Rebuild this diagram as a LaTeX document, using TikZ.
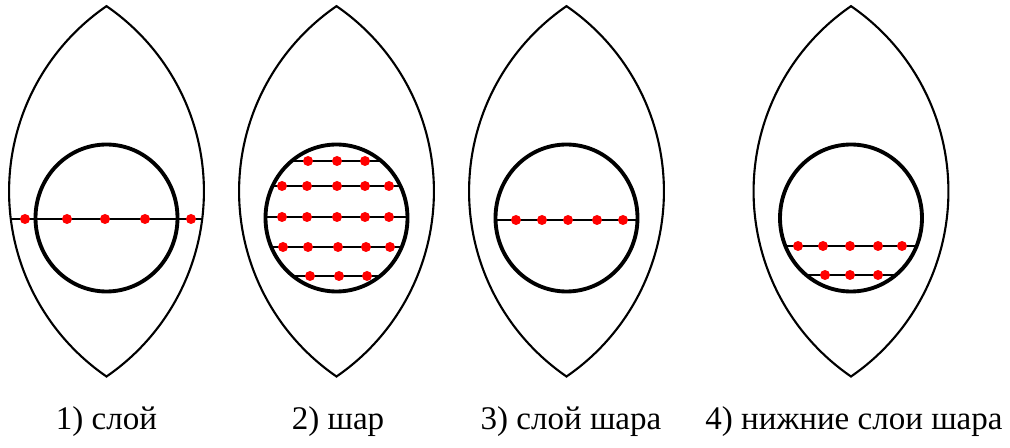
\documentclass[tikz,border=0pt]{standalone}
\usepackage{fontspec}
\setmainfont{Liberation Serif}
\usepackage{xcolor}
\usepackage{tikz}

\begin{document}
\begin{tikzpicture}[x=0.2mm,y=0.2mm,
  lens/.style={line width=1.2pt},
  ball/.style={line width=2.2pt},
  chord/.style={line width=1.1pt},
  redpt/.style={fill=red},
  lab/.style={anchor=base,font=\fontsize{18.8}{22}\selectfont}]
\useasboundingbox (0,0) rectangle (1010,448);
\foreach \cx in {106.5,336.5,566.5,851} {
  \draw[lens] (\cx,71.5) arc[start angle=-55.5,end angle=55.5,radius=224.7]
    arc[start angle=124.5,end angle=235.5,radius=224.7] -- cycle;
}
% 1) layer through the lens
\draw[chord] (10.7,229) -- (202.3,229);
\draw[ball] (106.5,230) ellipse [x radius=71,y radius=73.5];
\foreach \x in {25,67,105,145,191} \fill[redpt] (\x,229) circle (5);
% 2) ball
\begin{scope}
\clip (336.5,230) ellipse [x radius=71,y radius=73.5];
\foreach \y in {287,262,231,201,172} \draw[chord] (260,\y) -- (413,\y);
\end{scope}
\draw[ball] (336.5,230) ellipse [x radius=71,y radius=73.5];
\foreach \x in {308,337,365} {
  \fill[redpt] (\x,287) circle (5);
  \fill[redpt] (\x+2,172) circle (5);
}
\foreach \x in {282,307,337,365,389} {
  \fill[redpt] (\x,262) circle (5);
  \fill[redpt] (\x,231) circle (5);
  \fill[redpt] (\x+1,201) circle (5);
}
% 3) layer of the ball
\begin{scope}
\clip (566.5,230) ellipse [x radius=71,y radius=73.5];
\draw[chord] (490,228) -- (643,228);
\end{scope}
\draw[ball] (566.5,230) ellipse [x radius=71,y radius=73.5];
\foreach \x in {516,542,568,597,623} \fill[redpt] (\x,228) circle (5);
% 4) lower layers
\begin{scope}
\clip (851,230) ellipse [x radius=71,y radius=73.5];
\draw[chord] (775,202) -- (928,202);
\draw[chord] (775,173) -- (928,173);
\end{scope}
\draw[ball] (851,230) ellipse [x radius=71,y radius=73.5];
\foreach \x in {798,823,850,878,902} \fill[redpt] (\x,202) circle (5);
\foreach \x in {825,850,878} \fill[redpt] (\x,173) circle (5);
\node[lab] (lab1) at (106.5,18) {1) слой};
\node[lab] (lab2) at (338,18) {2) шар};
\node[lab] (lab3) at (571,18) {3) слой шара};
\node[lab] (lab4) at (854,18) {4) нижние слои шара};
\end{tikzpicture}
\end{document}
